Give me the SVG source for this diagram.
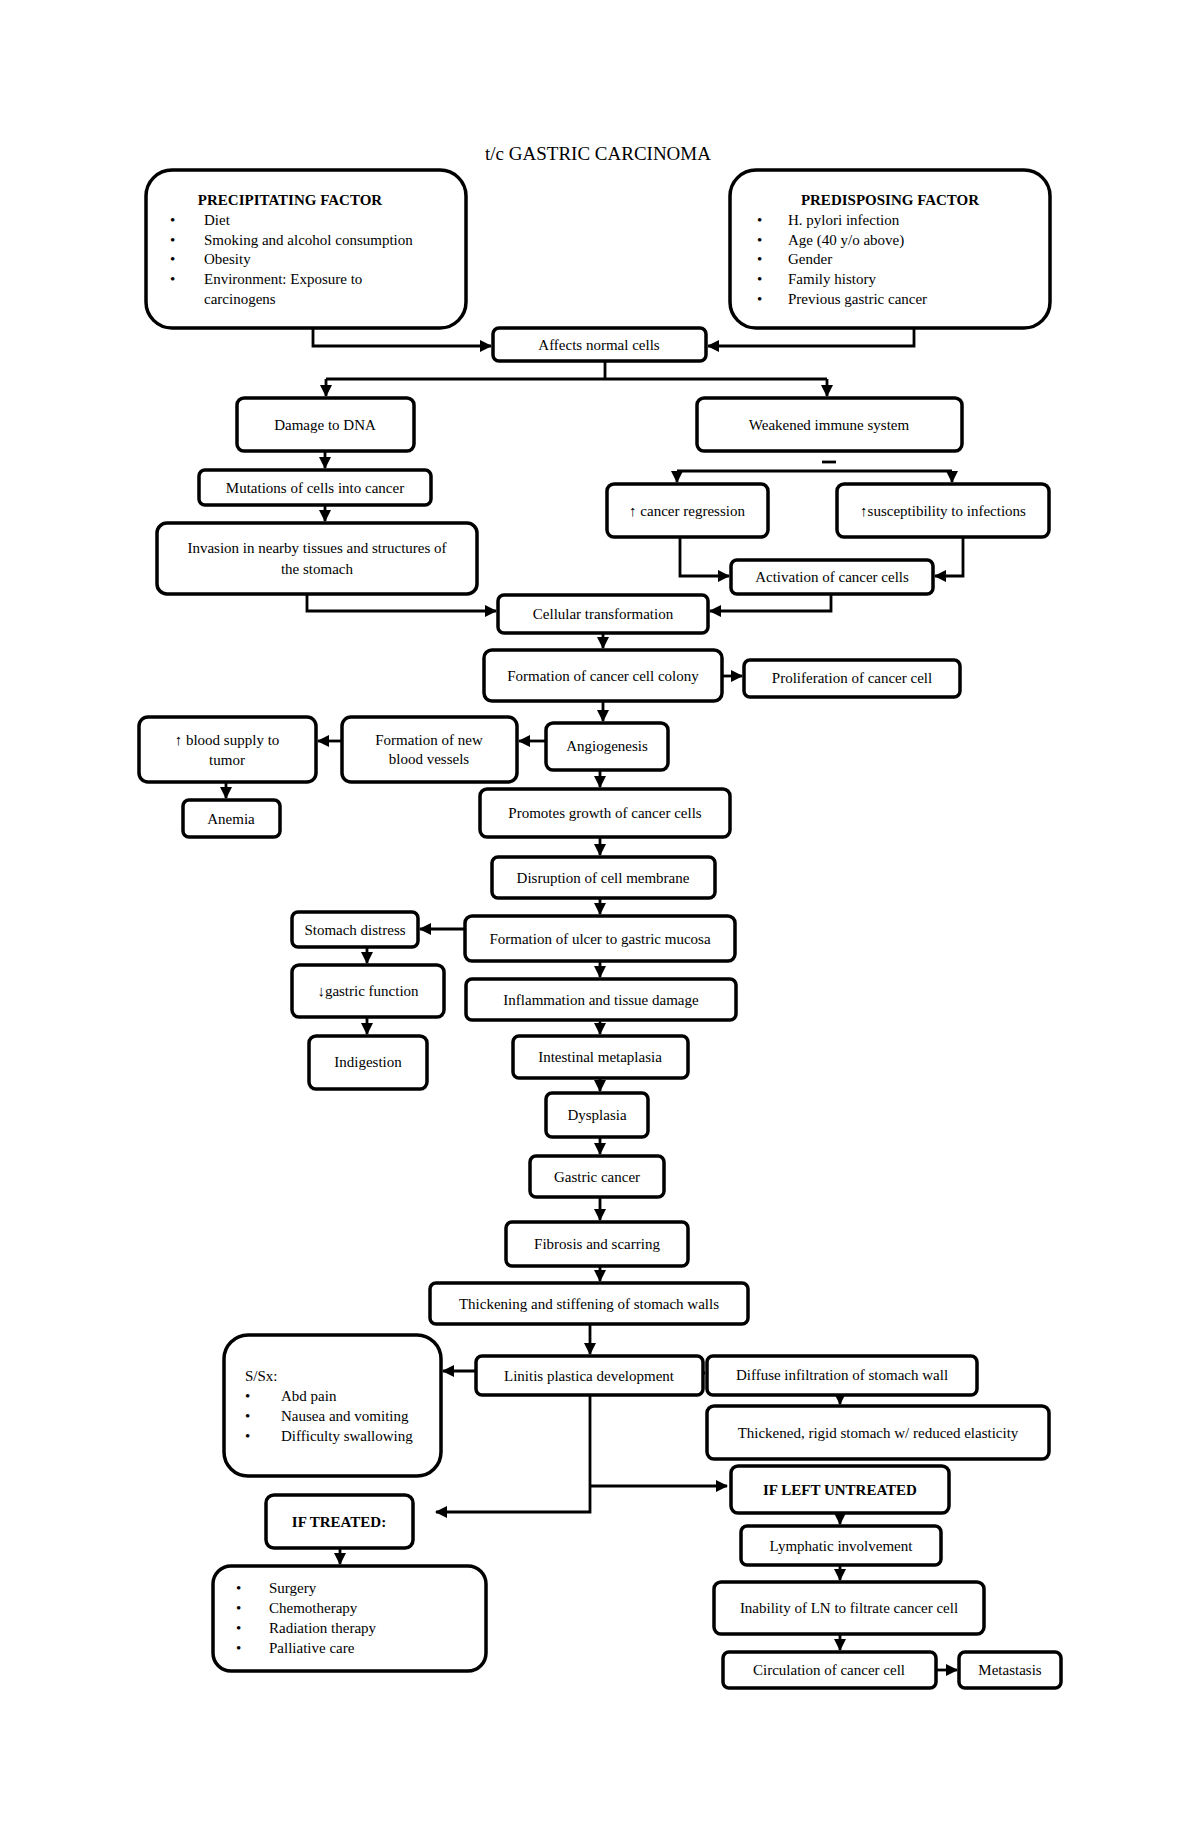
<svg xmlns="http://www.w3.org/2000/svg" width="1200" height="1835" viewBox="0 0 1200 1835">
<style>
.b{fill:#fff;stroke:#000;stroke-width:3.5}
text{font-family:"Liberation Serif","Times New Roman",serif;font-size:15px;fill:#000}
.c{text-anchor:middle}
.h{font-weight:bold}
#connectors path{fill:none;stroke:#000;stroke-width:2.8}
</style>
<defs><marker id="a" markerWidth="8" markerHeight="8" refX="7" refY="4" orient="auto" markerUnits="userSpaceOnUse" viewBox="0 0 8 8"><path d="M0,0L8,4L0,8z" fill="#000"/></marker>
<marker id="a2" markerWidth="12" markerHeight="12" refX="11" refY="6" orient="auto" markerUnits="userSpaceOnUse" viewBox="0 0 12 12"><path d="M0,0L12,6L0,12z" fill="#000"/></marker></defs>
<rect width="1200" height="1835" fill="#fff"/>
<text x="598" y="160" class="c" style="font-size:19px">t/c GASTRIC CARCINOMA</text>
<g id="connectors">
<path d="M313,328V346H491" marker-end="url(#a2)"/>
<path d="M914,328V346H708" marker-end="url(#a2)"/>
<path d="M605,361V379"/><path d="M326,379H827"/>
<path d="M326,379V396" marker-end="url(#a2)"/><path d="M827,379V396" marker-end="url(#a2)"/>
<path d="M325,451V468" marker-end="url(#a2)"/>
<path d="M325,505V521" marker-end="url(#a2)"/>
<path d="M822,462H836"/>
<path d="M677,471H952"/>
<path d="M677,471V482" marker-end="url(#a2)"/><path d="M952,471V482" marker-end="url(#a2)"/>
<path d="M680,537V576H729" marker-end="url(#a2)"/>
<path d="M963,537V576H935" marker-end="url(#a2)"/>
<path d="M307,594V611H496" marker-end="url(#a2)"/>
<path d="M831,594V611H710" marker-end="url(#a2)"/>
<path d="M603,633V648" marker-end="url(#a2)"/>
<path d="M722,676H742" marker-end="url(#a2)"/>
<path d="M603,701V721" marker-end="url(#a2)"/>
<path d="M546,741H519" marker-end="url(#a2)"/>
<path d="M342,741H318" marker-end="url(#a2)"/>
<path d="M226,782V798" marker-end="url(#a2)"/>
<path d="M600,770V787" marker-end="url(#a2)"/>
<path d="M600,837V855" marker-end="url(#a2)"/>
<path d="M600,898V914" marker-end="url(#a2)"/>
<path d="M465,929H420" marker-end="url(#a2)"/>
<path d="M367,947V963" marker-end="url(#a2)"/>
<path d="M367,1017V1034" marker-end="url(#a2)"/>
<path d="M600,961V977" marker-end="url(#a2)"/>
<path d="M600,1020V1034" marker-end="url(#a2)"/>
<path d="M600,1078V1091" marker-end="url(#a2)"/>
<path d="M600,1137V1154" marker-end="url(#a2)"/>
<path d="M600,1197V1220" marker-end="url(#a2)"/>
<path d="M600,1266V1281" marker-end="url(#a2)"/>
<path d="M590,1324V1354" marker-end="url(#a2)"/>
<path d="M476,1371H443" marker-end="url(#a2)"/>
<path d="M703,1373H705" marker-end="url(#a2)"/>
<path d="M840,1395V1404" marker-end="url(#a2)"/>
<path d="M590,1395V1512H436" marker-end="url(#a2)"/>
<path d="M590,1486H727" marker-end="url(#a2)"/>
<path d="M340,1548V1564" marker-end="url(#a2)"/>
<path d="M840,1513V1524" marker-end="url(#a2)"/>
<path d="M840,1565V1580" marker-end="url(#a2)"/>
<path d="M840,1634V1650" marker-end="url(#a2)"/>
<path d="M936,1670H957" marker-end="url(#a2)"/>
</g>
<g id="precip"><rect class="b" x="146" y="170" width="320" height="158" rx="26"/>
<text x="290" y="205" class="c h">PRECIPITATING FACTOR</text>
<text x="170" y="225">•</text><text x="204" y="225">Diet</text>
<text x="170" y="245">•</text><text x="204" y="245">Smoking and alcohol consumption</text>
<text x="170" y="264">•</text><text x="204" y="264">Obesity</text>
<text x="170" y="284">•</text><text x="204" y="284">Environment: Exposure to</text>
<text x="204" y="304">carcinogens</text></g>
<g id="predis"><rect class="b" x="730" y="170" width="320" height="158" rx="26"/>
<text x="890" y="205" class="c h">PREDISPOSING FACTOR</text>
<text x="757" y="225">•</text><text x="788" y="225">H. pylori infection</text>
<text x="757" y="245">•</text><text x="788" y="245">Age (40 y/o above)</text>
<text x="757" y="264">•</text><text x="788" y="264">Gender</text>
<text x="757" y="284">•</text><text x="788" y="284">Family history</text>
<text x="757" y="304">•</text><text x="788" y="304">Previous gastric cancer</text></g>
<g id="affects"><rect class="b" x="493" y="328" width="213" height="33" rx="6"/><text x="599" y="350" class="c">Affects normal cells</text></g>
<g id="dna"><rect class="b" x="237" y="398" width="177" height="53" rx="7"/><text x="325" y="430" class="c">Damage to DNA</text></g>
<g id="immune"><rect class="b" x="697" y="398" width="265" height="53" rx="7"/><text x="829" y="430" class="c">Weakened immune system</text></g>
<g id="mut"><rect class="b" x="199" y="470" width="232" height="35" rx="6"/><text x="315" y="493" class="c">Mutations of cells into cancer</text></g>
<g id="inv"><rect class="b" x="157" y="523" width="320" height="71" rx="10"/><text x="317" y="553" class="c">Invasion in nearby tissues and structures of</text><text x="317" y="574" class="c">the stomach</text></g>
<g id="reg"><rect class="b" x="607" y="484" width="161" height="53" rx="7"/><text x="687" y="516" class="c">↑ cancer regression</text></g>
<g id="sus"><rect class="b" x="837" y="484" width="212" height="53" rx="7"/><text x="943" y="516" class="c">↑susceptibility to infections</text></g>
<g id="act"><rect class="b" x="731" y="560" width="202" height="34" rx="6"/><text x="832" y="582" class="c">Activation of cancer cells</text></g>
<g id="cell"><rect class="b" x="498" y="595" width="210" height="38" rx="6"/><text x="603" y="619" class="c">Cellular transformation</text></g>
<g id="colony"><rect class="b" x="484" y="650" width="238" height="51" rx="8"/><text x="603" y="681" class="c">Formation of cancer cell colony</text></g>
<g id="prolif"><rect class="b" x="744" y="660" width="216" height="37" rx="6"/><text x="852" y="683" class="c">Proliferation of cancer cell</text></g>
<g id="angio"><rect class="b" x="546" y="723" width="122" height="47" rx="7"/><text x="607" y="751" class="c">Angiogenesis</text></g>
<g id="vessels"><rect class="b" x="342" y="717" width="175" height="65" rx="9"/><text x="429" y="745" class="c">Formation of new</text><text x="429" y="764" class="c">blood vessels</text></g>
<g id="blood"><rect class="b" x="139" y="717" width="177" height="65" rx="9"/><text x="227" y="745" class="c">↑ blood supply to</text><text x="227" y="765" class="c">tumor</text></g>
<g id="anemia"><rect class="b" x="183" y="800" width="97" height="37" rx="6"/><text x="231" y="824" class="c">Anemia</text></g>
<g id="promotes"><rect class="b" x="480" y="789" width="250" height="48" rx="7"/><text x="605" y="818" class="c">Promotes growth of cancer cells</text></g>
<g id="disrupt"><rect class="b" x="492" y="857" width="223" height="41" rx="6"/><text x="603" y="883" class="c">Disruption of cell membrane</text></g>
<g id="ulcer"><rect class="b" x="465" y="916" width="270" height="45" rx="7"/><text x="600" y="944" class="c">Formation of ulcer to gastric mucosa</text></g>
<g id="distress"><rect class="b" x="292" y="912" width="126" height="35" rx="6"/><text x="355" y="935" class="c">Stomach distress</text></g>
<g id="gastric"><rect class="b" x="292" y="965" width="152" height="52" rx="7"/><text x="368" y="996" class="c">↓gastric function</text></g>
<g id="indig"><rect class="b" x="309" y="1036" width="118" height="53" rx="7"/><text x="368" y="1067" class="c">Indigestion</text></g>
<g id="inflam"><rect class="b" x="466" y="979" width="270" height="41" rx="6"/><text x="601" y="1005" class="c">Inflammation and tissue damage</text></g>
<g id="meta"><rect class="b" x="513" y="1036" width="175" height="42" rx="6"/><text x="600" y="1062" class="c">Intestinal metaplasia</text></g>
<g id="dys"><rect class="b" x="546" y="1093" width="102" height="44" rx="6"/><text x="597" y="1120" class="c">Dysplasia</text></g>
<g id="gc"><rect class="b" x="530" y="1156" width="134" height="41" rx="6"/><text x="597" y="1182" class="c">Gastric cancer</text></g>
<g id="fib"><rect class="b" x="506" y="1222" width="182" height="44" rx="6"/><text x="597" y="1249" class="c">Fibrosis and scarring</text></g>
<g id="thick"><rect class="b" x="430" y="1283" width="318" height="41" rx="6"/><text x="589" y="1309" class="c">Thickening and stiffening of stomach walls</text></g>
<g id="linitis"><rect class="b" x="476" y="1356" width="227" height="39" rx="6"/><text x="589" y="1381" class="c">Linitis plastica development</text></g>
<g id="ssx"><rect class="b" x="224" y="1335" width="217" height="141" rx="24"/>
<text x="245" y="1381">S/Sx:</text>
<text x="245" y="1401">•</text><text x="281" y="1401">Abd pain</text>
<text x="245" y="1421">•</text><text x="281" y="1421">Nausea and vomiting</text>
<text x="245" y="1441">•</text><text x="281" y="1441">Difficulty swallowing</text></g>
<g id="diffuse"><rect class="b" x="707" y="1356" width="270" height="39" rx="6"/><text x="842" y="1380" class="c">Diffuse infiltration of stomach wall</text></g>
<g id="rigid"><rect class="b" x="707" y="1406" width="342" height="53" rx="7"/><text x="878" y="1438" class="c">Thickened, rigid stomach w/ reduced elasticity</text></g>
<g id="untreated"><rect class="b" x="731" y="1466" width="218" height="47" rx="7"/><text x="840" y="1495" class="c h">IF LEFT UNTREATED</text></g>
<g id="treated"><rect class="b" x="266" y="1495" width="147" height="53" rx="8"/><text x="339" y="1527" class="c h">IF TREATED:</text></g>
<g id="treat"><rect class="b" x="213" y="1566" width="273" height="105" rx="18"/>
<text x="236" y="1593">•</text><text x="269" y="1593">Surgery</text>
<text x="236" y="1613">•</text><text x="269" y="1613">Chemotherapy</text>
<text x="236" y="1633">•</text><text x="269" y="1633">Radiation therapy</text>
<text x="236" y="1653">•</text><text x="269" y="1653">Palliative care</text></g>
<g id="lymph"><rect class="b" x="741" y="1526" width="200" height="39" rx="6"/><text x="841" y="1551" class="c">Lymphatic involvement</text></g>
<g id="inab"><rect class="b" x="714" y="1582" width="270" height="52" rx="7"/><text x="849" y="1613" class="c">Inability of LN to filtrate cancer cell</text></g>
<g id="circ"><rect class="b" x="723" y="1652" width="213" height="36" rx="6"/><text x="829" y="1675" class="c">Circulation of cancer cell</text></g>
<g id="metas"><rect class="b" x="959" y="1652" width="102" height="36" rx="6"/><text x="1010" y="1675" class="c">Metastasis</text></g>
</svg>
